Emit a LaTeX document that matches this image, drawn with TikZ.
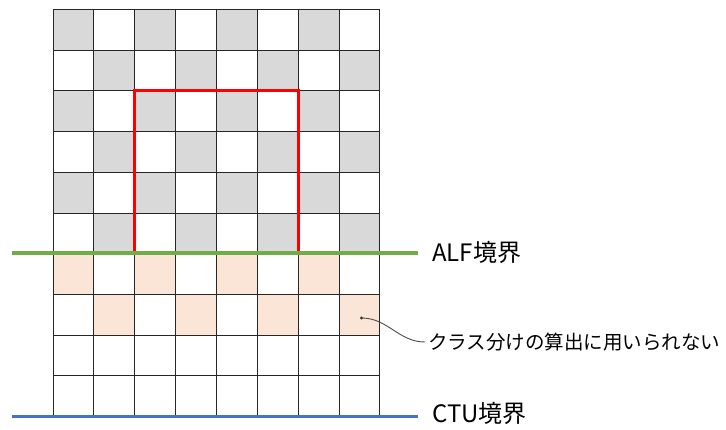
\documentclass[tikz,border=0pt]{standalone}
\usepackage{fontspec}
\setmainfont{Noto Sans CJK JP}
\definecolor{cellgray}{HTML}{D9D9D9}
\definecolor{cellpeach}{HTML}{FBE5D6}
\definecolor{alfgreen}{HTML}{70AD47}
\definecolor{ctublue}{HTML}{4472C4}
\begin{document}
\begin{tikzpicture}[x=1pt,y=-1pt]

\useasboundingbox (0,0) rectangle (726,430);

% -------------------------------------------------
% Grille de blocs 8 x 10
% -------------------------------------------------
\begin{scope}[shift={(53,9.5)},x=40.85pt,y=-40.7pt]
  % blocs gris (au-dessus de l'ALF)
  \foreach \r in {0,2,4}
    \foreach \c in {0,2,4,6} {
      \fill[cellgray] (\c,\r) rectangle ++(1,1);
      \fill[cellgray] (\c+1,\r+1) rectangle ++(1,1);
    }
  % blocs non utilises (sous l'ALF)
  \foreach \c in {0,2,4,6} {
    \fill[cellpeach] (\c,6) rectangle ++(1,1);
    \fill[cellpeach] (\c+1,7) rectangle ++(1,1);
  }
  % lignes de la grille
  \foreach \c in {0,...,8}
    \draw[line width=0.8pt, black!85] (\c,0) -- (\c,10);
  \foreach \r in {0,...,10}
    \draw[line width=0.8pt, black!85] (0,\r) -- (8,\r);
  % fenetre
  \draw[red, line width=3pt] (2,6) -- (2,2) -- (6,2) -- (6,6);
\end{scope}

% -------------------------------------------------
% Limites
% -------------------------------------------------
\draw[alfgreen, line width=3.8pt] (12,253) -- (418,253);
\draw[ctublue, line width=3.8pt] (12,416.5) -- (418,416.5);

\node[anchor=west, font=\fontsize{24}{28}\selectfont, inner sep=0pt] (alf) at (432,252) {ALF境界};
\node[anchor=west, font=\fontsize{24}{28}\selectfont, inner sep=0pt] (ctu) at (432,413) {CTU境界};

% -------------------------------------------------
% Annotation
% -------------------------------------------------
\coordinate (dot) at (361.5,318);
\fill[black!80] (dot) circle (1.6pt);
\node[anchor=west, font=\fontsize{19.5}{23}\selectfont, inner sep=0pt] (note) at (428,342) {クラス分けの算出に用いられない};
\draw[black!70, line width=0.9pt] (dot) to[out=0,in=180] ([xshift=-3pt]note.west);

\end{tikzpicture}
\end{document}
